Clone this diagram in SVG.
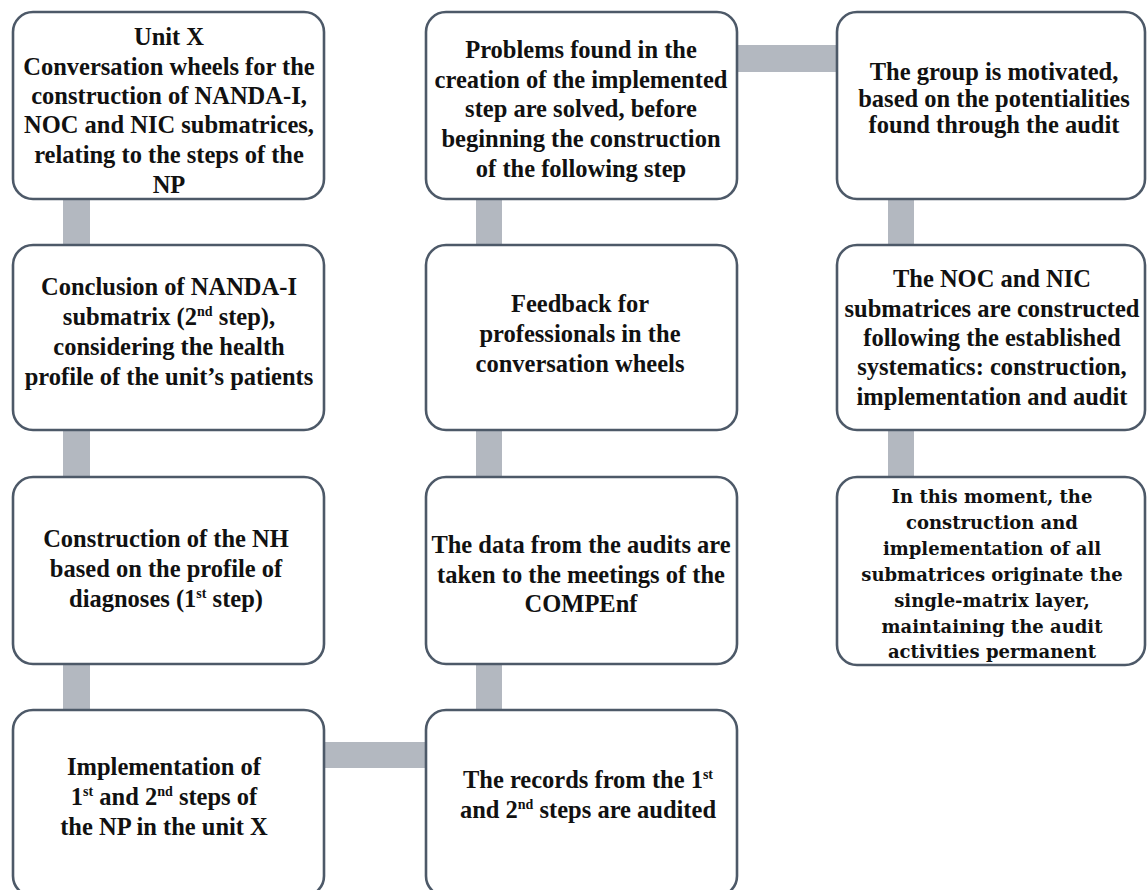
<svg xmlns="http://www.w3.org/2000/svg" width="1147" height="890" viewBox="0 0 1147 890">
<style>
.box{fill:#ffffff;stroke:#4d5968;stroke-width:2.6}
.conn{fill:#b3b8c0}
.t{font-family:"Liberation Serif","Times New Roman",serif;font-weight:bold;font-size:24.5px;fill:#111111;text-anchor:middle}
.t2{font-family:"DejaVu Serif","Liberation Serif",serif;font-weight:bold;font-size:18px;fill:#111111;text-anchor:middle}
.sup{font-size:14px}
</style>
<rect width="1147" height="890" fill="#ffffff"/>
<g id="connectors">
<rect class="conn" x="63" y="198" width="27" height="48"/>
<rect class="conn" x="63" y="429" width="27" height="49"/>
<rect class="conn" x="63" y="663" width="27" height="48"/>
<rect class="conn" x="476" y="198" width="26" height="48"/>
<rect class="conn" x="476" y="429" width="26" height="49"/>
<rect class="conn" x="476" y="663" width="26" height="48"/>
<rect class="conn" x="888" y="198" width="26" height="48"/>
<rect class="conn" x="888" y="429" width="26" height="49"/>
<rect class="conn" x="323" y="742" width="104" height="26"/>
<rect class="conn" x="736" y="45" width="102" height="27"/>
</g>
<g id="n1">
<rect class="box" x="13" y="12" width="311" height="187" rx="20"/>
<text class="t" x="169" y="45">Unit X</text>
<text class="t" x="169" y="75">Conversation wheels for the</text>
<text class="t" x="169" y="104">construction of NANDA-I,</text>
<text class="t" x="169" y="133">NOC and NIC submatrices,</text>
<text class="t" x="169" y="163">relating to the steps of the</text>
<text class="t" x="169" y="193">NP</text>
</g>
<g id="n2">
<rect class="box" x="13" y="245" width="311" height="185" rx="20"/>
<text class="t" x="169" y="295">Conclusion of NANDA-I</text>
<text class="t" x="169" y="325">submatrix (2<tspan class="sup" dy="-9">nd</tspan><tspan dy="9"> step),</tspan></text>
<text class="t" x="169" y="355">considering the health</text>
<text class="t" x="169" y="385">profile of the unit’s patients</text>
</g>
<g id="n3">
<rect class="box" x="13" y="477" width="311" height="187" rx="20"/>
<text class="t" x="166" y="547">Construction of the NH</text>
<text class="t" x="166" y="577">based on the profile of</text>
<text class="t" x="166" y="607">diagnoses (1<tspan class="sup" dy="-9">st</tspan><tspan dy="9"> step)</tspan></text>
</g>
<g id="n4">
<rect class="box" x="13" y="710" width="311" height="186" rx="20"/>
<text class="t" x="164" y="775">Implementation of</text>
<text class="t" x="164" y="805">1<tspan class="sup" dy="-9">st</tspan><tspan dy="9"> and 2</tspan><tspan class="sup" dy="-9">nd</tspan><tspan dy="9"> steps of</tspan></text>
<text class="t" x="164" y="835">the NP in the unit X</text>
</g>
<g id="n5">
<rect class="box" x="426" y="710" width="311" height="186" rx="20"/>
<text class="t" x="588" y="788">The records from the 1<tspan class="sup" dy="-9">st</tspan></text>
<text class="t" x="588" y="818">and 2<tspan class="sup" dy="-9">nd</tspan><tspan dy="9"> steps are audited</tspan></text>
</g>
<g id="n6">
<rect class="box" x="426" y="477" width="311" height="187" rx="20"/>
<text class="t" x="581" y="553">The data from the audits are</text>
<text class="t" x="581" y="583">taken to the meetings of the</text>
<text class="t" x="581" y="612">COMPEnf</text>
</g>
<g id="n7">
<rect class="box" x="426" y="245" width="311" height="185" rx="20"/>
<text class="t" x="580" y="312">Feedback for</text>
<text class="t" x="580" y="342">professionals in the</text>
<text class="t" x="580" y="372">conversation wheels</text>
</g>
<g id="n8">
<rect class="box" x="426" y="12" width="311" height="187" rx="20"/>
<text class="t" x="581" y="58">Problems found in the</text>
<text class="t" x="581" y="88">creation of the implemented</text>
<text class="t" x="581" y="117">step are solved, before</text>
<text class="t" x="581" y="147">beginning the construction</text>
<text class="t" x="581" y="177">of the following step</text>
</g>
<g id="n9">
<rect class="box" x="837" y="12" width="308" height="187" rx="20"/>
<text class="t" x="994" y="80">The group is motivated,</text>
<text class="t" x="994" y="107">based on the potentialities</text>
<text class="t" x="994" y="133">found through the audit</text>
</g>
<g id="n10">
<rect class="box" x="837" y="245" width="308" height="185" rx="20"/>
<text class="t" x="992" y="287">The NOC and NIC</text>
<text class="t" x="992" y="317">submatrices are constructed</text>
<text class="t" x="992" y="346">following the established</text>
<text class="t" x="992" y="375">systematics: construction,</text>
<text class="t" x="992" y="405">implementation and audit</text>
</g>
<g id="n11">
<rect class="box" x="837" y="477" width="308" height="188" rx="20"/>
<text class="t2" x="992" y="503">In this moment, the</text>
<text class="t2" x="992" y="529">construction and</text>
<text class="t2" x="992" y="555">implementation of all</text>
<text class="t2" x="992" y="581">submatrices originate the</text>
<text class="t2" x="992" y="607">single-matrix layer,</text>
<text class="t2" x="992" y="633">maintaining the audit</text>
<text class="t2" x="992" y="658">activities permanent</text>
</g>
</svg>
